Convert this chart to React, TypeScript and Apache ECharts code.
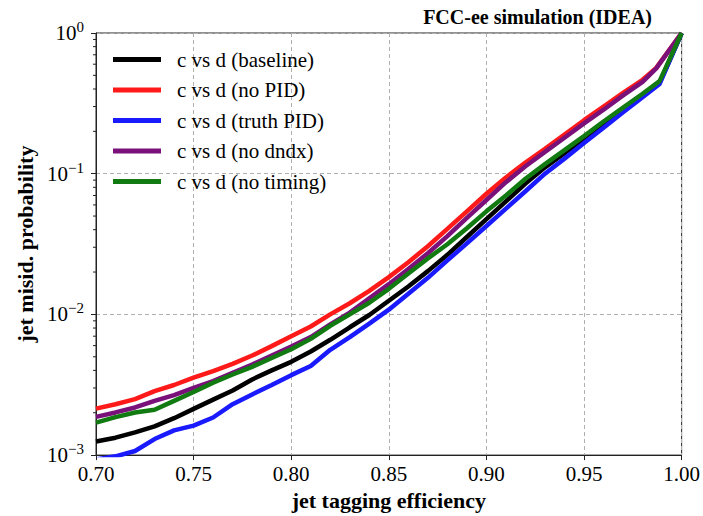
import React, { useEffect, useRef } from "react";
import * as echarts from "echarts";

const efficiency = [
  0.70, 0.71, 0.72, 0.73, 0.74, 0.75, 0.76, 0.77, 0.78, 0.79,
  0.80, 0.81, 0.82, 0.83, 0.84, 0.85, 0.86, 0.87, 0.88, 0.89,
  0.90, 0.91, 0.92, 0.93, 0.94, 0.95, 0.96, 0.97, 0.98,
];

const baseline = [
  1.25e-3, 1.33e-3, 1.45e-3, 1.6e-3, 1.83e-3, 2.13e-3, 2.48e-3, 2.88e-3, 3.45e-3, 4.0e-3,
  4.6e-3, 5.45e-3, 6.6e-3, 8.1e-3, 9.9e-3, 1.25e-2, 1.58e-2, 2.03e-2, 2.65e-2, 3.55e-2,
  4.75e-2, 6.35e-2, 8.5e-2, 0.111, 0.14, 0.177, 0.224, 0.283, 0.358,
];
const noPID = [
  2.14e-3, 2.3e-3, 2.5e-3, 2.85e-3, 3.15e-3, 3.55e-3, 3.95e-3, 4.45e-3, 5.1e-3, 5.95e-3,
  7.0e-3, 8.2e-3, 1.0e-2, 1.2e-2, 1.47e-2, 1.84e-2, 2.35e-2, 3.05e-2, 4.05e-2, 5.4e-2,
  7.2e-2, 9.4e-2, 0.12, 0.15, 0.19, 0.24, 0.30, 0.375, 0.465,
];
const truthPID = [
  9.3e-4, 9.8e-4, 1.07e-3, 1.3e-3, 1.5e-3, 1.62e-3, 1.85e-3, 2.3e-3, 2.7e-3, 3.15e-3,
  3.7e-3, 4.3e-3, 5.6e-3, 6.9e-3, 8.6e-3, 1.08e-2, 1.4e-2, 1.82e-2, 2.42e-2, 3.2e-2,
  4.25e-2, 5.65e-2, 7.5e-2, 0.1, 0.128, 0.165, 0.212, 0.273, 0.35,
];
const noDndx = [
  1.87e-3, 2.01e-3, 2.18e-3, 2.43e-3, 2.67e-3, 3.0e-3, 3.36e-3, 3.85e-3, 4.4e-3, 5.1e-3,
  5.9e-3, 6.9e-3, 8.5e-3, 1.03e-2, 1.3e-2, 1.64e-2, 2.1e-2, 2.72e-2, 3.6e-2, 4.85e-2,
  6.5e-2, 8.7e-2, 0.113, 0.143, 0.18, 0.228, 0.285, 0.36, 0.45,
];
const noTiming = [
  1.70e-3, 1.86e-3, 2.01e-3, 2.1e-3, 2.43e-3, 2.81e-3, 3.27e-3, 3.74e-3, 4.24e-3, 4.9e-3,
  5.65e-3, 6.7e-3, 8.3e-3, 1.0e-2, 1.21e-2, 1.52e-2, 1.95e-2, 2.5e-2, 3.15e-2, 4.1e-2,
  5.4e-2, 7.0e-2, 9.2e-2, 0.117, 0.147, 0.185, 0.235, 0.295, 0.37,
];

// end-of-curve points (efficiency, misid)
const tailEffEarly = [0.987, 1.0];
const tailEffLate = [0.9887, 1.0];
const baselineTail = [0.44, 1.0];
const noPIDTail = [0.565, 1.0];
const truthPIDTail = [0.435, 1.0];
const noDndxTail = [0.56, 1.0];
const noTimingTail = [0.455, 1.0];

const seriesNames = [
  "c vs d (baseline)",
  "c vs d (no PID)",
  "c vs d (truth PID)",
  "c vs d (no dndx)",
  "c vs d (no timing)",
];
const seriesColors = ["#000000", "#ff1a1a", "#1a1aff", "#7a107a", "#117a11"];

const xTicks = [0.7, 0.75, 0.8, 0.85, 0.9, 0.95, 1.0];
const yMinorTicks = [
  0.002, 0.003, 0.004, 0.005, 0.006, 0.007, 0.008, 0.009,
  0.02, 0.03, 0.04, 0.05, 0.06, 0.07, 0.08, 0.09,
  0.2, 0.3, 0.4, 0.5, 0.6, 0.7, 0.8, 0.9,
];

const FONT = "Liberation Serif";

function pairs(xs: number[], ys: number[], tx: number[], ty: number[]) {
  const out: number[][] = xs.map((x, i) => [x, ys[i]]);
  tx.forEach((x, i) => out.push([x, ty[i]]));
  return out;
}

export default function App() {
  const ref = useRef<HTMLDivElement>(null);
  useEffect(() => {
    if (!ref.current) return;
    const chart = echarts.init(ref.current, null, { renderer: "svg" });
    const data = [
      pairs(efficiency, baseline, tailEffLate, baselineTail),
      pairs(efficiency, noPID, tailEffEarly, noPIDTail),
      pairs(efficiency, truthPID, tailEffLate, truthPIDTail),
      pairs(efficiency, noDndx, tailEffEarly, noDndxTail),
      pairs(efficiency, noTiming, tailEffLate, noTimingTail),
    ];
    const supMap: Record<string, string> = { "1": "0", "0.1": "−1", "0.01": "−2", "0.001": "−3" };
    chart.setOption({
      animation: false,
      backgroundColor: "#ffffff",
      textStyle: { fontFamily: FONT },
      title: {
        text: "FCC-ee simulation (IDEA)",
        right: 51,
        top: 7,
        padding: 0,
        textStyle: { fontFamily: FONT, fontWeight: "bold", fontSize: 20, color: "#000" },
      },
      legend: {
        data: seriesNames,
        orient: "vertical",
        left: 113,
        top: 49,
        padding: 0,
        icon: "rect",
        itemWidth: 48,
        itemHeight: 5,
        itemGap: 9.5,
        formatter: (name: string) => "{t|" + name + "}",
        textStyle: {
          fontFamily: FONT,
          fontSize: 21,
          color: "#000",
          rich: {
            t: { fontFamily: FONT, fontSize: 21, color: "#000", lineHeight: 21, padding: [0, 0, 0, 11] },
          },
        },
      },
      grid: {
        left: 96,
        right: 21,
        top: 33,
        bottom: 56,
        show: true,
        borderColor: "#222",
        borderWidth: 1,
        backgroundColor: "transparent",
      },
      xAxis: {
        type: "value",
        min: 0.7,
        max: 1.0,
        interval: 0.05,
        name: "jet tagging efficiency",
        nameLocation: "middle",
        nameGap: 31,
        nameTextStyle: { fontFamily: FONT, fontWeight: "bold", fontSize: 22, color: "#000" },
        axisLine: { show: true, lineStyle: { color: "#222", width: 1 } },
        axisTick: { show: true, inside: false, length: 5, lineStyle: { color: "#222" } },
        axisLabel: {
          fontFamily: FONT,
          fontSize: 21,
          color: "#000",
          margin: 8,
          formatter: (v: number) => {
            const near = xTicks.find((t) => Math.abs(t - v) < 1e-6);
            return "{t|" + (near ?? v).toFixed(2) + "}";
          },
          rich: {
            t: { fontFamily: FONT, fontSize: 21, color: "#000" },
          },
        },
        splitLine: { show: true, lineStyle: { color: "#b0b0b0", type: [4, 3], width: 1 } },
      },
      yAxis: {
        type: "log",
        logBase: 10,
        min: 0.001,
        max: 1,
        name: "jet misid. probability",
        nameLocation: "middle",
        nameGap: 60,
        nameTextStyle: { fontFamily: FONT, fontWeight: "bold", fontSize: 22, color: "#000" },
        axisLine: { show: true, lineStyle: { color: "#222", width: 1 } },
        axisTick: { show: true, inside: false, length: 5, lineStyle: { color: "#222" } },
        minorTick: { show: false },
        axisLabel: {
          fontFamily: FONT,
          color: "#000",
          margin: 12,
          formatter: (v: number) => {
            const key = String(Number(v.toPrecision(3)));
            return "{b|10}{s|" + (supMap[key] ?? "") + "}";
          },
          rich: {
            b: { fontFamily: FONT, fontSize: 21, color: "#000" },
            s: { fontFamily: FONT, fontSize: 15, color: "#000", padding: [0, 0, 12, 0] },
          },
        },
        splitLine: { show: true, lineStyle: { color: "#b0b0b0", type: [4, 3], width: 1 } },
      },
      series: [
        ...seriesNames.map((name, i) => ({
          name,
          type: "line",
          data: data[i],
          showSymbol: false,
          symbol: "none",
          clip: true,
          lineStyle: { color: seriesColors[i], width: 4.5 },
          itemStyle: { color: seriesColors[i] },
          z: 2 + i,
        })),
        {
          type: "custom",
          name: "minorTicks",
          data: yMinorTicks.map((v) => [0.7, v]),
          encode: { x: 0, y: 1 },
          silent: true,
          clip: false,
          renderItem: (params: any, api: any) => {
            const p = api.coord([api.value(0), api.value(1)]);
            return {
              type: "line",
              shape: { x1: p[0] - 3, y1: p[1], x2: p[0], y2: p[1] },
              style: { stroke: "#222", lineWidth: 1 },
            };
          },
        },
      ],
    });
    return () => chart.dispose();
  }, []);
  return (
    <div
      ref={ref}
      style={{ position: "fixed", left: 0, top: 0, width: 703, height: 516, background: "#fff" }}
    />
  );
}
